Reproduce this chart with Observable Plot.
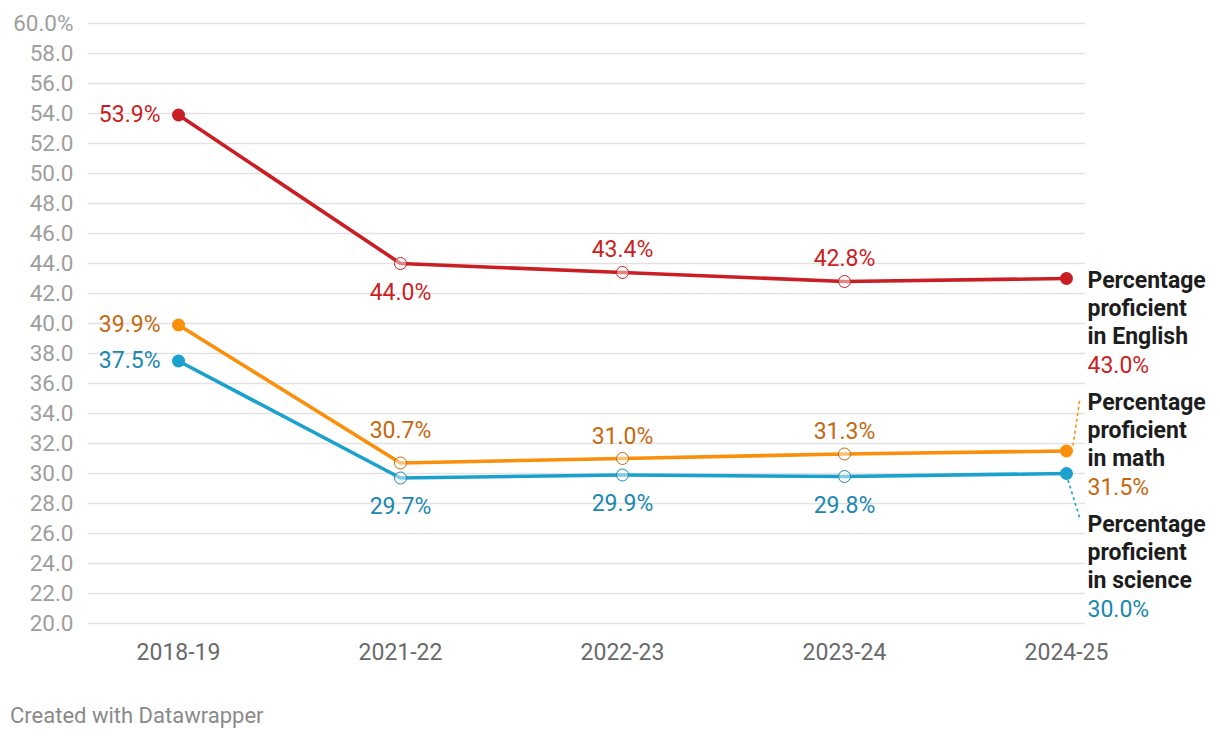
<!DOCTYPE html>
<html><head><meta charset="utf-8">
<script src="https://cdn.jsdelivr.net/npm/d3@7"></script>
<script src="https://cdn.jsdelivr.net/npm/@observablehq/plot@0.6"></script>
<style>
body{margin:0;background:#fff;font-family:Roboto,sans-serif}
#chart svg{overflow:visible}
[aria-label="y-axis tick label"]{font-size:22.5px}
[aria-label="y-axis tick label"] text{fill:#9e9e9e}
[aria-label="x-axis tick label"]{font-size:23px}
[aria-label="x-axis tick label"] text{fill:#6a6a6a}
#footer{font-size:22px;color:#8a8a8a;margin:24px 0 0 10px;line-height:24px}
</style></head><body>
<div id="chart"></div>
<div id="footer">Created with Datawrapper</div>
<script>
const years = ["2018-19", "2021-22", "2022-23", "2023-24", "2024-25"];
const english = [53.9, 44.0, 43.4, 42.8, 43.0];
const math = [39.9, 30.7, 31.0, 31.3, 31.5];
const science = [37.5, 29.7, 29.9, 29.8, 30.0];
const seriesLabels = ["Percentage\nproficient\nin English", "Percentage\nproficient\nin math", "Percentage\nproficient\nin science"];
const yTicks = d3.range(20, 61, 2);

const series = [
  {key: "english", values: english, label: seriesLabels[0], line: "#c91f24", text: "#c91f24",
   midDy: i => (i === 1 ? 29 : -23), nameDy: -10.2, conn: null},
  {key: "math", values: math, label: seriesLabels[1], line: "#f98f0b", text: "#c4690f",
   midDy: i => (i === 1 ? -32 : -22), nameDy: -60.7, conn: [7, -5, 14, -52]},
  {key: "science", values: science, label: seriesLabels[2], line: "#1aa1cd", text: "#1a88b0",
   midDy: i => 29, nameDy: 38.8, conn: [2, 7, 14, 46]}
];

const FS = 23;
const fmt = v => v.toFixed(1) + "%";
const marks = [
  Plot.ruleY(yTicks, {stroke: "#e2e2e2", strokeWidth: 1.3}),
  Plot.axisY({ticks: yTicks, tickFormat: d => d === 60 ? "60.0%" : d.toFixed(1), tickSize: 0, tickPadding: 15, label: null}),
  Plot.axisX({tickSize: 0, tickPadding: 20, label: null})
];

for (const s of series) {
  const rows = years.map((y, i) => ({year: y, value: s.values[i], i, label: s.label}));
  const first = rows.filter(d => d.i === 0);
  const last = rows.filter(d => d.i === years.length - 1);
  const mid = rows.filter(d => d.i > 0 && d.i < years.length - 1);
  marks.push(Plot.line(rows, {x: "year", y: "value", stroke: s.line, strokeWidth: 3.6}));
  marks.push(Plot.dot(mid, {x: "year", y: "value", r: 6, stroke: s.text, strokeWidth: 1, fill: "white", fillOpacity: 0.45}));
  marks.push(Plot.dot(first.concat(last), {x: "year", y: "value", r: 6.5, fill: s.line}));
  marks.push(Plot.text(first, {x: "year", y: "value", text: d => fmt(d.value), dx: -18, textAnchor: "end", fill: s.text, fontSize: FS}));
  for (const d of mid) {
    marks.push(Plot.text([d], {x: "year", y: "value", text: d => fmt(d.value), dy: s.midDy(d.i), fill: s.text, fontSize: FS}));
  }
  marks.push(Plot.text(last, {x: "year", y: "value", text: "label", dx: 21, dy: s.nameDy, textAnchor: "start", lineAnchor: "top", lineHeight: 1.217, fontWeight: "bold", fill: "#1d1d1d", fontSize: FS}));
  marks.push(Plot.text(last, {x: "year", y: "value", text: d => fmt(d.value), dx: 21, dy: s.nameDy + 88, textAnchor: "start", lineAnchor: "top", fill: s.text, fontSize: FS}));
}

const chart = Plot.plot({
  width: 1220,
  height: 680,
  marginLeft: 88,
  marginRight: 135,
  marginTop: 23,
  marginBottom: 57,
  style: {fontFamily: "Roboto, sans-serif", fontSize: "23px", background: "white"},
  x: {type: "point", domain: years, range: [178, 1066], padding: 0},
  y: {domain: [20, 60]},
  marks
});
document.getElementById("chart").append(chart);

// dotted connectors from end points to shifted labels
const xs = chart.scale("x"), ys = chart.scale("y");
const svg = d3.select(chart);
for (const s of series) {
  if (!s.conn) continue;
  const v = s.values[s.values.length - 1];
  const px = xs.apply(years[years.length - 1]), py = ys.apply(v);
  svg.append("line")
    .attr("x1", px + s.conn[0]).attr("y1", py + s.conn[1])
    .attr("x2", px + s.conn[2]).attr("y2", py + s.conn[3])
    .attr("stroke", s.line).attr("stroke-width", 1.6).attr("stroke-dasharray", "3,3");
}
</script>
</body></html>
